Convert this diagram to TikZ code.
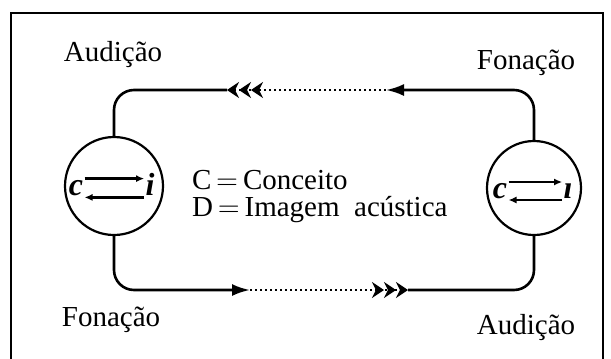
\documentclass[tikz,border=0pt]{standalone}
\usepackage{fontspec}
\setmainfont{Liberation Serif}
\usetikzlibrary{arrows.meta,positioning}
\tikzset{
  ear/.style={circle, draw, line width=1.1pt, inner sep=0pt},
  lbl/.style={font=\fontsize{14.5}{17}\selectfont},
  sym/.style={font=\fontsize{16}{18}\selectfont\bfseries\itshape, inner sep=0.5pt,
              text height=1.6ex, text depth=0pt},
  wire/.style={line width=1.3pt, rounded corners=10pt},
  dots/.style={line width=1.3pt, dash pattern=on 1.1pt off 1.4pt},
  one/.style={-{Latex[length=9pt,width=6pt]}},
  three/.style={-{Stealth[length=6pt,width=8pt,inset=2pt]Stealth[length=6pt,width=8pt,inset=2pt]Stealth[length=6pt,width=8pt,inset=2pt]}},
  link/.style={line width=1.2pt, -{Latex[length=4pt,width=3.5pt]}}
}

\begin{document}
\begin{tikzpicture}[x=0.5pt, y=-0.5pt]
  \useasboundingbox (0,0) rectangle (611,359);
  \draw[line width=0.8pt] (11,365) |- (603,13) -- (603,365);

  \node[ear, minimum size=49pt] (L) at (114,186) {};
  \node[ear, minimum size=47pt] (R) at (534,188) {};

  \node[sym] (lc) at (76,188) {c};
  \node[sym] (li) at (150,188) {i};
  \node[sym] (rc) at (500,191) {c};
  \node[sym] (ri) at (568,191) {\i};
  \draw[link] ([yshift=4.7pt]lc.east) -- ([yshift=4.7pt]li.west);
  \draw[link] ([yshift=-4.7pt]li.west) -- ([yshift=-4.7pt]lc.east);
  \draw[link] ([yshift=4.5pt]rc.east) -- ([yshift=4.5pt]ri.west);
  \draw[link] ([yshift=-4.5pt]ri.west) -- ([yshift=-4.5pt]rc.east);

  \node[lbl, anchor=west] (cc) at (185,180) {C\,$=$\,Conceito};
  \node[lbl, anchor=west] (dd) at (185,210) {D\,$=$\,Imagem\hspace{0.5em}acústica};

  \node[lbl] (a1) at (113,55) {Audição};
  \node[lbl] (f1) at (526,63) {Fonação};
  \node[lbl] (f2) at (111,320) {Fonação};
  \node[lbl] (a2) at (526,328) {Audição};

  % upper way, right to left
  \coordinate (ta) at (386,90);
  \coordinate (tc) at (227,90);
  \draw[wire, one] (R.north) |- (ta);
  \draw[dots, three] (ta) -- (tc);
  \draw[wire] (tc) -| (L.north);

  % lower way, left to right
  \coordinate (ba) at (250,290);
  \coordinate (bc) at (408,290);
  \draw[wire, one] (L.south) |- (ba);
  \draw[dots, three] (ba) -- (bc);
  \draw[wire] (bc) -| (R.south);
\end{tikzpicture}
\end{document}
